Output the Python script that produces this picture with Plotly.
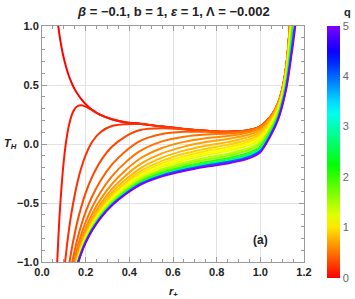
import colorsys
import plotly.graph_objects as go

# r+ sample grid (shared)
R = [0.06, 0.07, 0.08, 0.09, 0.10, 0.11, 0.12, 0.13, 0.14, 0.15, 0.16, 0.18, 0.20,
     0.23, 0.27, 0.32, 0.38, 0.45, 0.55, 0.65, 0.75, 0.85, 0.95, 1.00, 1.05, 1.08,
     1.10, 1.12, 1.14, 1.16, 1.18]

Q_VALUES = [0.0, 0.1, 0.2, 0.3, 0.4, 0.5, 0.6, 0.7, 0.8, 0.9, 1.0, 1.1, 1.2, 1.4, 1.6,
            2.0, 2.5, 3.0, 4.0, 5.0]
# index in R where each curve's samples start
R_START = [0, 0, 1, 3, 4, 6, 7, 7, 8, 8, 8, 8, 8, 8, 8, 8, 8, 8, 8, 8]

T_q00 = [1.26, 1.07, 0.925, 0.815, 0.726, 0.654, 0.593, 0.543, 0.50, 0.463, 0.432, 0.38, 0.338,
         0.29, 0.245, 0.21, 0.185, 0.172, 0.148, 0.128, 0.113, 0.103, 0.118, 0.15, 0.24, 0.34,
         0.46, 0.68, 1.12, 1.75]
T_q01 = [-1.48, -0.99, -0.62, -0.35, -0.14, 0.016, 0.128, 0.208, 0.263, 0.298, 0.318, 0.329, 0.317,
         0.285, 0.244, 0.21, 0.185, 0.172, 0.148, 0.128, 0.113, 0.103, 0.118, 0.15, 0.24, 0.34,
         0.46, 0.68, 1.12, 1.75]
T_q02 = [-1.90, -1.58, -1.32, -1.10, -0.93, -0.775, -0.643, -0.53, -0.432, -0.343, -0.201, -0.094,
         0.019, 0.104, 0.153, 0.168, 0.169, 0.148, 0.128, 0.113, 0.103, 0.118, 0.15, 0.24, 0.34,
         0.46, 0.68, 1.12, 1.75]
T_q03 = [-1.57, -1.38, -1.22, -1.08, -0.957, -0.851, -0.76, -0.673, -0.531, -0.414, -0.277, -0.141,
         -0.024, 0.061, 0.118, 0.133, 0.125, 0.112, 0.103, 0.118, 0.15, 0.24, 0.34, 0.46, 0.68,
         1.12, 1.75]
T_q04 = [-1.48, -1.33, -1.20, -1.086, -0.987, -0.901, -0.82, -0.686, -0.576, -0.443, -0.305, -0.175,
         -0.065, 0.026, 0.084, 0.103, 0.104, 0.10, 0.117, 0.149, 0.24, 0.34, 0.46, 0.68, 1.12, 1.75]
T_q05 = [-1.257, -1.15, -1.053, -0.972, -0.895, -0.766, -0.661, -0.535, -0.403, -0.275, -0.16,
         -0.059, 0.022, 0.062, 0.081, 0.088, 0.112, 0.146, 0.238, 0.339, 0.459, 0.679, 1.118, 1.746]
T_q06 = [-1.184, -1.091, -1.011, -0.937, -0.813, -0.712, -0.59, -0.464, -0.34, -0.227, -0.123,
         -0.034, 0.018, 0.049, 0.067, 0.099, 0.136, 0.233, 0.335, 0.455, 0.674, 1.109, 1.73]
T_q07 = [-1.206, -1.114, -1.036, -0.963, -0.842, -0.743, -0.626, -0.503, -0.383, -0.273, -0.171,
         -0.08, -0.022, 0.016, 0.042, 0.08, 0.121, 0.223, 0.327, 0.448, 0.665, 1.092, 1.70]
T_q08 = [-1.13, -1.053, -0.981, -0.861, -0.763, -0.649, -0.53, -0.413, -0.306, -0.206, -0.115,
         -0.056, -0.014, 0.016, 0.06, 0.104, 0.211, 0.317, 0.439, 0.652, 1.068, 1.66]
T_q09 = [-1.14, -1.064, -0.992, -0.874, -0.779, -0.666, -0.548, -0.434, -0.33, -0.232, -0.143,
         -0.083, -0.04, -0.007, 0.04, 0.086, 0.199, 0.307, 0.429, 0.638, 1.04, 1.61]
T_q10 = [-1.147, -1.072, -1.001, -0.883, -0.789, -0.678, -0.562, -0.45, -0.347, -0.251, -0.164,
         -0.105, -0.061, -0.027, 0.021, 0.069, 0.187, 0.296, 0.418, 0.623, 1.011, 1.555]
T_q11 = [-1.153, -1.078, -1.007, -0.891, -0.797, -0.686, -0.572, -0.462, -0.361, -0.266, -0.181,
         -0.123, -0.079, -0.045, 0.005, 0.054, 0.176, 0.287, 0.409, 0.609, 0.983, 1.503]
T_q12 = [-1.156, -1.083, -1.012, -0.896, -0.803, -0.693, -0.58, -0.471, -0.371, -0.278, -0.194,
         -0.138, -0.094, -0.059, -0.009, 0.04, 0.166, 0.278, 0.40, 0.596, 0.958, 1.455]
T_q14 = [-1.163, -1.089, -1.019, -0.904, -0.811, -0.703, -0.591, -0.484, -0.386, -0.295, -0.214,
         -0.159, -0.117, -0.082, -0.032, 0.018, 0.149, 0.263, 0.385, 0.575, 0.914, 1.373]
T_q16 = [-1.167, -1.093, -1.023, -0.909, -0.817, -0.709, -0.599, -0.492, -0.396, -0.307, -0.227,
         -0.174, -0.133, -0.099, -0.049, 0.001, 0.136, 0.251, 0.373, 0.558, 0.879, 1.307]
T_q20 = [-1.172, -1.098, -1.029, -0.915, -0.823, -0.717, -0.607, -0.503, -0.408, -0.32, -0.243,
         -0.192, -0.153, -0.121, -0.072, -0.021, 0.119, 0.235, 0.357, 0.534, 0.831, 1.214]
T_q25 = [-1.175, -1.101, -1.032, -0.918, -0.828, -0.721, -0.613, -0.509, -0.416, -0.33, -0.254,
         -0.205, -0.167, -0.136, -0.088, -0.038, 0.106, 0.224, 0.345, 0.516, 0.795, 1.145]
T_q30 = [-1.176, -1.102, -1.034, -0.92, -0.83, -0.724, -0.616, -0.513, -0.42, -0.335, -0.26,
         -0.212, -0.175, -0.144, -0.097, -0.047, 0.098, 0.217, 0.338, 0.506, 0.774, 1.104, 1.56]
T_q40 = [-1.177, -1.102, -1.036, -0.922, -0.832, -0.727, -0.619, -0.516, -0.424, -0.339, -0.266,
         -0.219, -0.182, -0.153, -0.107, -0.057, 0.091, 0.21, 0.33, 0.495, 0.751, 1.06, 1.52]
T_q50 = [-1.18, -1.104, -1.037, -0.925, -0.835, -0.73, -0.623, -0.521, -0.43, -0.346, -0.274,
         -0.228, -0.193, -0.165, -0.12, -0.07, 0.08, 0.2, 0.32, 0.48, 0.72, 1.0, 1.45]

T_ALL = [T_q00, T_q01, T_q02, T_q03, T_q04, T_q05, T_q06, T_q07, T_q08, T_q09, T_q10, T_q11,
         T_q12, T_q14, T_q16, T_q20, T_q25, T_q30, T_q40, T_q50]

Q_MAX = 5.0
HUE_SPAN = 0.75


def rainbow(t):
    r, g, b = colorsys.hsv_to_rgb(HUE_SPAN * t, 1.0, 1.0)
    return "rgb(%d,%d,%d)" % (round(r * 255), round(g * 255), round(b * 255))


colorscale = [[i / 20, rainbow(i / 20)] for i in range(21)]

fig = go.Figure()
for q, start, T in zip(Q_VALUES, R_START, T_ALL):
    xs = R[start:start + len(T)]
    fig.add_trace(go.Scatter(
        x=xs, y=T, mode="lines",
        line=dict(color=rainbow(q / Q_MAX), width=2, shape="spline", smoothing=0.8),
        showlegend=False, hoverinfo="skip"))

# colorbar carrier
fig.add_trace(go.Scatter(
    x=[None], y=[None], mode="markers", showlegend=False, hoverinfo="skip",
    marker=dict(color=[0], cmin=0, cmax=5, colorscale=colorscale, showscale=True,
                colorbar=dict(
                    thickness=13, lenmode="pixels", len=252, ypad=0, xpad=0,
                    x=1.087, xanchor="left", y=0.467, yanchor="middle",
                    outlinewidth=0, ticks="", tickvals=[0, 1, 2, 3, 4, 5],
                    ticktext=["0", "1", "2", "3", "4", "5"],
                    tickfont=dict(family="Liberation Sans", size=11, color="#666666")))))

axis_common = dict(
    showline=True, linecolor="#9a9a9a", linewidth=1, mirror="ticks",
    ticks="inside", ticklen=5, tickcolor="#9a9a9a", tickwidth=1,
    showgrid=True, gridcolor="#e3e3e3", gridwidth=1, zeroline=False,
    tickfont=dict(family="Liberation Sans", size=11, color="#222222", weight="bold"),
)

fig.update_xaxes(range=[0, 1.2], tickvals=[0, 0.2, 0.4, 0.6, 0.8, 1.0, 1.2],
                 ticktext=["0.0", "0.2", "0.4", "0.6", "0.8", "1.0", "1.2"],
                 minor=dict(dtick=0.05, ticks="inside", ticklen=3, tickcolor="#9a9a9a",
                            showgrid=False),
                 **axis_common)
fig.update_yaxes(range=[-1, 1], tickvals=[-1, -0.5, 0, 0.5, 1],
                 ticktext=["\u22121.0", "\u22120.5", "0.0", "0.5", "1.0"],
                 minor=dict(dtick=0.1, ticks="inside", ticklen=3, tickcolor="#9a9a9a",
                            showgrid=False),
                 **axis_common)

fig.update_layout(
    width=355, height=299,
    margin=dict(l=42, r=51, t=26, b=37, autoexpand=False),
    paper_bgcolor="white", plot_bgcolor="white",
    font=dict(family="Liberation Sans", color="#222222"),
    annotations=[
        dict(text="<b><i>\u03b2</i> = \u22120.1, b = 1, <i>\u03b5</i> = 1, \u039b = \u22120.002</b>",
             xref="paper", yref="paper", x=0.5, y=1.06, xanchor="center", yanchor="middle",
             showarrow=False, font=dict(size=13, color="#222222")),
        dict(text="<b><i>T</i><sub><i>H</i></sub></b>", xref="paper", yref="paper",
             x=-0.12, y=0.5, xanchor="center", yanchor="middle", showarrow=False,
             font=dict(size=11, color="#222222")),
        dict(text="<b><i>r</i><sub>+</sub></b>", xref="paper", yref="paper",
             x=0.5, y=-0.125, xanchor="center", yanchor="middle", showarrow=False,
             font=dict(size=11, color="#222222")),
        dict(text="<b>(a)</b>", xref="x", yref="y", x=1.0, y=-0.81,
             xanchor="center", yanchor="middle", showarrow=False,
             font=dict(size=12, color="#222222")),
        dict(text="<b>q</b>", xref="paper", yref="paper", x=1.165, y=1.06,
             xanchor="center", yanchor="middle", showarrow=False,
             font=dict(size=11, color="#222222")),
    ],
)

fig.write_html("out.html", config={"displayModeBar": False},
               post_script="document.body.style.margin='0';document.body.style.padding='0';")
